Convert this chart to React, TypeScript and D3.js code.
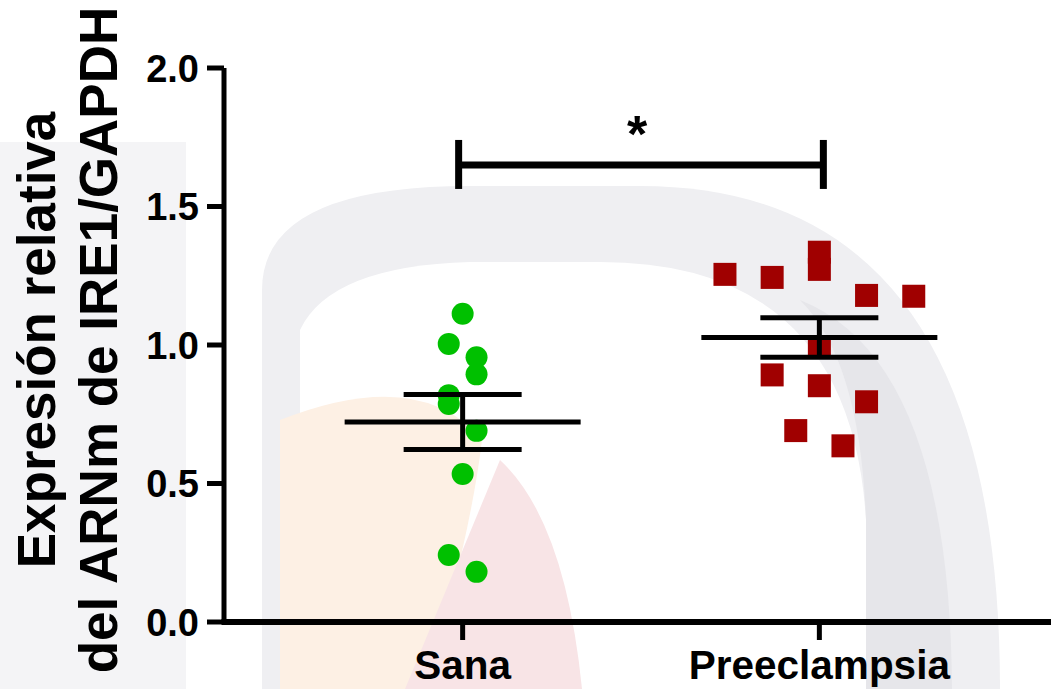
import React from "react";
import * as d3 from "d3";

const categories = ["Sana", "Preeclampsia"];
const sanaValues = [1.113, 1.004, 0.956, 0.894, 0.819, 0.787, 0.69, 0.534, 0.242, 0.181];
const sanaCols = [0, -1, 1, 1, -1, -1, 1, 0, -1, 1];
const preValues = [1.255, 1.244, 1.335, 1.273, 1.179, 1.176, 0.994, 0.892, 0.853, 0.795, 0.691, 0.636];
const preCols = [-4, -2, 0, 0, 2, 4, 0, -2, 0, 2, -1, 1];
const yTicks = [0, 0.5, 1.0, 1.5, 2.0];
const significance = { label: "*", level: 1.65 };
const yTitle = ["Expresión relativa", "del ARNm de IRE1/GAPDH"];

const W = 1051;
const H = 689;
const FONT = "'Liberation Sans', Arial, Helvetica, sans-serif";

export default function App() {
  const y = d3.scaleLinear().domain([0, 2]).range([622, 68]);
  const x = d3.scalePoint<string>().domain(categories).range([224, 1058]).padding(0.669);
  const x0 = 224;
  const yBase = y(0);

  const groups = [
    { name: "Sana", values: sanaValues, cols: sanaCols, step: 13.9, color: "#00c000", shape: "circle" },
    { name: "Preeclampsia", values: preValues, cols: preCols, step: 23.6, color: "#a00000", shape: "square" },
  ];

  const stats = groups.map((g) => {
    const m = d3.mean(g.values) as number;
    const sem = (d3.deviation(g.values) as number) / Math.sqrt(g.values.length);
    return { ...g, m, sem };
  });

  const xs = x("Sana") as number;
  const xp = x("Preeclampsia") as number;
  const by = y(significance.level);

  return (
    <svg width={W} height={H} style={{ position: "absolute", left: 0, top: 0, background: "#fff" }} fontFamily={FONT}>
      {/* faint watermark */}
      <g>
        <rect x={0} y={142} width={186} height={H - 142} fill="#f4f4f6" />
        <path d="M262,689 L262,290 Q262,186 470,186 L640,186 Q1000,186 1000,689 Z" fill="#efeff2" />
        <path d="M300,689 L300,330 Q330,266 470,262 L600,262 Q850,262 866,520 L866,689 Z" fill="#ffffff" />
        <path d="M866,689 L866,520 Q860,360 800,300 Q950,360 952,689 Z" fill="#e6e6ea" />
        <path d="M280,689 L280,420 Q420,365 482,440 Q470,540 425,689 Z" fill="#fdf0e4" />
        <path d="M405,689 L500,460 Q565,520 582,689 Z" fill="#f8e4e6" />
      </g>

      {/* y axis */}
      <line x1={x0} x2={x0} y1={y(2)} y2={yBase} stroke="#000" strokeWidth={5} />
      {yTicks.map((t) => (
        <g key={t}>
          <line x1={207} x2={x0} y1={y(t)} y2={y(t)} stroke="#000" strokeWidth={5} />
          <text x={199} y={y(t)} dy="0.36em" textAnchor="end" fontSize={38} fontWeight="bold">
            {t.toFixed(1)}
          </text>
        </g>
      ))}

      {/* x axis */}
      <line x1={x0 - 2.5} x2={W} y1={yBase} y2={yBase} stroke="#000" strokeWidth={6} />
      {categories.map((c) => (
        <g key={c}>
          <line x1={x(c)} x2={x(c)} y1={yBase} y2={yBase + 18} stroke="#000" strokeWidth={5} />
          <text x={x(c)} y={679} textAnchor="middle" fontSize={40.5} fontWeight="bold">
            {c}
          </text>
        </g>
      ))}

      {/* y title */}
      {yTitle.map((t, i) => (
        <text
          key={t}
          transform={`translate(${55 + i * 62},340) rotate(-90)`}
          textAnchor="middle"
          fontSize={53}
          fontWeight="bold"
        >
          {t}
        </text>
      ))}

      {/* points */}
      {groups.map((g) => {
        const cx = x(g.name) as number;
        return (
          <g key={g.name}>
            {g.values.map((v, i) =>
              g.shape === "circle" ? (
                <circle key={i} cx={cx + g.cols[i] * g.step} cy={y(v)} r={11} fill={g.color} />
              ) : (
                <rect key={i} x={cx + g.cols[i] * g.step - 11.5} y={y(v) - 11.5} width={23} height={23} fill={g.color} />
              )
            )}
          </g>
        );
      })}

      {/* mean & SEM */}
      {stats.map((s) => {
        const cx = x(s.name) as number;
        return (
          <g key={s.name} stroke="#000" strokeWidth={5}>
            <line x1={cx - 118} x2={cx + 118} y1={y(s.m)} y2={y(s.m)} />
            <line x1={cx} x2={cx} y1={y(s.m + s.sem)} y2={y(s.m - s.sem)} />
            <line x1={cx - 59} x2={cx + 59} y1={y(s.m + s.sem)} y2={y(s.m + s.sem)} />
            <line x1={cx - 59} x2={cx + 59} y1={y(s.m - s.sem)} y2={y(s.m - s.sem)} />
          </g>
        );
      })}

      {/* significance bracket */}
      <g stroke="#000" strokeWidth={7}>
        <line x1={xs - 4} x2={xp + 4} y1={by} y2={by} />
        <line x1={xs - 4} x2={xs - 4} y1={by - 25} y2={by + 24} />
        <line x1={xp + 4} x2={xp + 4} y1={by - 25} y2={by + 24} />
      </g>
      <text x={(xs + xp) / 2 - 4} y={152} textAnchor="middle" fontSize={52} fontWeight="bold">
        {significance.label}
      </text>
    </svg>
  );
}
